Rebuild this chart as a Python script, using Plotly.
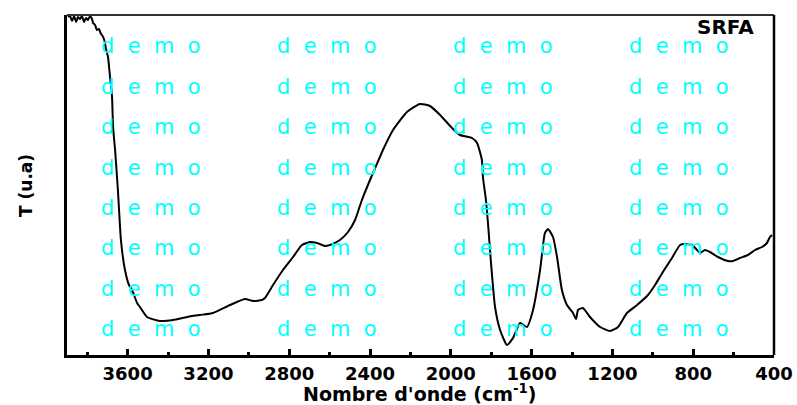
import plotly.graph_objects as go

# Wavenumber (cm-1) and transmittance (arbitrary units)
wavenumber = [3895, 3885, 3875, 3865, 3855, 3846, 3836, 3826, 3816, 3806, 3796, 3786, 3776, 3771,
              3761, 3752, 3742, 3732, 3727, 3717, 3712, 3707, 3697, 3687, 3677, 3672, 3662, 3648,
              3633, 3613, 3593, 3578, 3553, 3539, 3504, 3440, 3375, 3306, 3242, 3177, 3093, 3019,
              2979, 2935, 2920, 2880, 2831, 2781, 2737, 2697, 2662, 2623, 2598, 2549, 2509, 2474,
              2440, 2400, 2351, 2336, 2286, 2217, 2153, 2103, 2053, 1994, 1955, 1895, 1870, 1846,
              1841, 1826, 1816, 1801, 1781, 1756, 1722, 1692, 1657, 1623, 1593, 1558, 1534, 1519,
              1494, 1474, 1450, 1425, 1395, 1380, 1370, 1346, 1311, 1261, 1212, 1172, 1128, 1078,
              1024, 989, 950, 905, 865, 841, 806, 781, 766, 742, 717, 677, 628, 603, 568, 529,
              494, 459, 435, 420, 410]
transmittance = [338, 339, 334, 339, 333, 338, 336, 339, 333, 337, 335, 339, 336, 332,
                 330, 325, 326, 321, 320, 316, 312, 306, 298, 278, 258, 228, 205, 165,
                 115, 85, 70, 65, 52, 48, 38, 34, 35, 38, 40, 42, 50, 56,
                 54, 55, 57, 70, 85, 98, 110, 113, 112, 109, 110, 115, 123, 135,
                 155, 175, 198, 205, 225, 243, 251, 249, 240, 227, 220, 217, 212, 195,
                 178, 155, 132, 92, 48, 25, 10, 17, 32, 28, 45, 85, 122, 126,
                 118, 98, 65, 50, 42, 36, 45, 47, 38, 28, 24, 28, 42, 50,
                 60, 70, 83, 97, 110, 111, 110, 105, 102, 105, 103, 98, 94, 94, 97, 100,
                 105, 108, 112, 118, 120]

tick_values = [3600, 3200, 2800, 2400, 2000, 1600, 1200, 800, 400]
tick_labels = ["3600", "3200", "2800", "2400", "2000", "1600", "1200", "800", "400"]
minor_values = [3800, 3400, 3000, 2600, 2200, 1800, 1400, 1000, 600]
sample_label = "SRFA"
x_title = "Nombre d'onde (cm<sup>-1</sup>)"
y_title = "T (u.a)"
watermark = "d\u00a0\u00a0e\u00a0\u00a0m\u00a0\u00a0o"

W, H = 797, 405
L, R, T, B = 67, 23, 15, 50
pw, ph = W - L - R, H - T - B

fig = go.Figure()
fig.add_trace(go.Scatter(x=wavenumber, y=transmittance, mode="lines",
                         line=dict(color="black", width=2, shape="spline", smoothing=0.5),
                         showlegend=False, hoverinfo="skip"))

annotations = []
# watermark grid
wm_cols = [99, 275, 451, 627]
wm_rows = [46, 87, 127, 168, 208, 248, 289, 329]
for cx in wm_cols:
    for cy in wm_rows:
        annotations.append(dict(xref="paper", yref="paper", x=(cx - L) / pw, y=(H - B - cy) / ph,
                                text=watermark, showarrow=False, xanchor="left", yanchor="middle",
                                font=dict(family="DejaVu Sans", size=21, color="#00FFFF")))
annotations.append(dict(xref="paper", yref="paper", x=(756 - L) / pw, y=(H - B - 27) / ph,
                        text="<b>%s</b>" % sample_label, showarrow=False, xanchor="right",
                        yanchor="middle", font=dict(family="DejaVu Sans", size=20, color="black")))
annotations.append(dict(xref="paper", yref="paper", x=(420 - L) / pw, y=(H - B - 393) / ph,
                        text="<b>%s</b>" % x_title, showarrow=False, xanchor="center",
                        yanchor="middle", font=dict(family="DejaVu Sans", size=19, color="black")))
annotations.append(dict(xref="paper", yref="paper", x=(26 - L) / pw, y=(H - B - 186) / ph,
                        text="<b>%s</b>" % y_title, showarrow=False, xanchor="center",
                        yanchor="middle", textangle=-90,
                        font=dict(family="DejaVu Sans", size=17, color="black")))

shapes = [
    dict(type="line", xref="paper", yref="paper", x0=0, x1=1, y0=1, y1=1,
         line=dict(color="#333333", width=2)),
    dict(type="line", xref="paper", yref="paper", x0=1, x1=1, y0=0, y1=1,
         line=dict(color="black", width=2.5)),
]

fig.update_layout(
    width=W, height=H,
    margin=dict(l=L, r=R, t=T, b=B),
    paper_bgcolor="white", plot_bgcolor="white",
    annotations=annotations, shapes=shapes,
    xaxis=dict(range=[3900, 400], tickvals=tick_values, ticktext=tick_labels, automargin=False,
               ticks="inside", ticklen=6, tickwidth=2.5, tickcolor="black",
               minor=dict(ticks="inside", ticklen=3, tickwidth=2.5, tickcolor="black",
                          tickvals=minor_values),
               showline=True, linecolor="black", linewidth=3, showgrid=False, zeroline=False,
               tickfont=dict(family="DejaVu Sans", size=18, color="black", weight="bold")),
    yaxis=dict(range=[0, 340], showticklabels=False, ticks="", showline=True, automargin=False,
               linecolor="black", linewidth=3, showgrid=False, zeroline=False),
)

fig.write_html("out.html")
